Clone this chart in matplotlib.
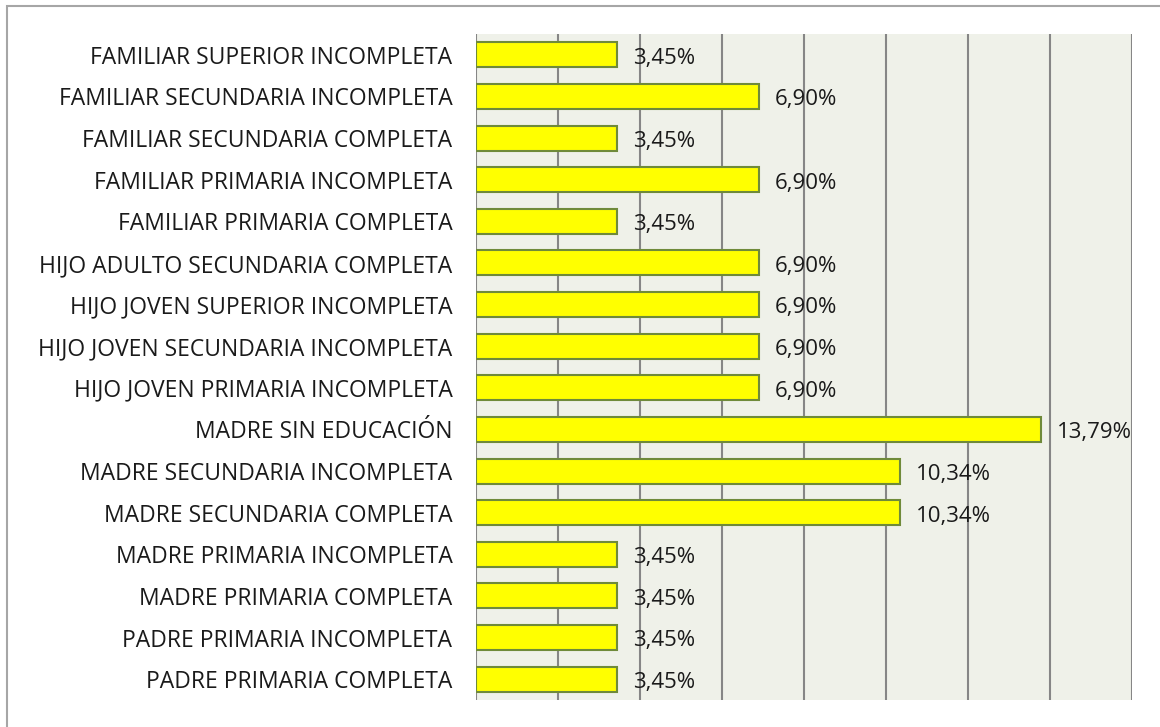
import matplotlib.pyplot as plt
import matplotlib.patches as patches
import numpy as np

# categories listed bottom to top, as they appear on the chart
categories = [
    "PADRE PRIMARIA COMPLETA",
    "PADRE PRIMARIA INCOMPLETA",
    "MADRE PRIMARIA COMPLETA",
    "MADRE PRIMARIA INCOMPLETA",
    "MADRE SECUNDARIA COMPLETA",
    "MADRE SECUNDARIA INCOMPLETA",
    "MADRE SIN EDUCACIÓN",
    "HIJO JOVEN PRIMARIA INCOMPLETA",
    "HIJO JOVEN SECUNDARIA INCOMPLETA",
    "HIJO JOVEN SUPERIOR INCOMPLETA",
    "HIJO ADULTO SECUNDARIA COMPLETA",
    "FAMILIAR PRIMARIA COMPLETA",
    "FAMILIAR PRIMARIA INCOMPLETA",
    "FAMILIAR SECUNDARIA COMPLETA",
    "FAMILIAR SECUNDARIA INCOMPLETA",
    "FAMILIAR SUPERIOR INCOMPLETA",
]
percent = [3.45, 3.45, 3.45, 3.45, 10.34, 10.34, 13.79, 6.90,
           6.90, 6.90, 6.90, 3.45, 6.90, 3.45, 6.90, 3.45]

plt.rcParams['font.family'] = ['Open Sans', 'DejaVu Sans']

fig = plt.figure(figsize=(11.6, 7.27), dpi=100)
ax = fig.add_axes([476 / 1160, 1 - 700 / 727, (1132 - 476) / 1160, (700 - 34) / 727])

# outer chart frame (only left and top edges visible)
fig.add_artist(patches.Rectangle((7 / 1160, -0.05), 1.2, 1 - 6 / 727 + 0.05,
                                 transform=fig.transFigure, fill=False,
                                 edgecolor='#a6a6a6', linewidth=1.5))

ax.set_facecolor('#eff1e9')
y = np.arange(len(categories))
ax.barh(y, percent, height=0.6, color='#ffff00', edgecolor='#6f8a3a',
        linewidth=1.5, zorder=3)

for yi, v in zip(y, percent):
    ax.text(v + 0.39, yi - 0.08, f"{v:.2f}%".replace('.', ','), va='center',
            ha='left', fontsize=16, color='#1a1a1a', zorder=4)

ax.set_xlim(0, 16)
ax.set_ylim(-0.5, len(categories) - 0.5)
ax.set_xticks(np.arange(0, 17, 2))
ax.xaxis.grid(True, color='#868686', linewidth=1.5, zorder=1)
ax.tick_params(axis='x', length=0, labelbottom=False)
ax.set_yticks(y)
ax.set_yticklabels(categories, fontsize=16.5, color='#1a1a1a')
ax.tick_params(axis='y', length=0, pad=17)
for s in ax.spines.values():
    s.set_visible(False)

fig.savefig('out.png', dpi=100)
